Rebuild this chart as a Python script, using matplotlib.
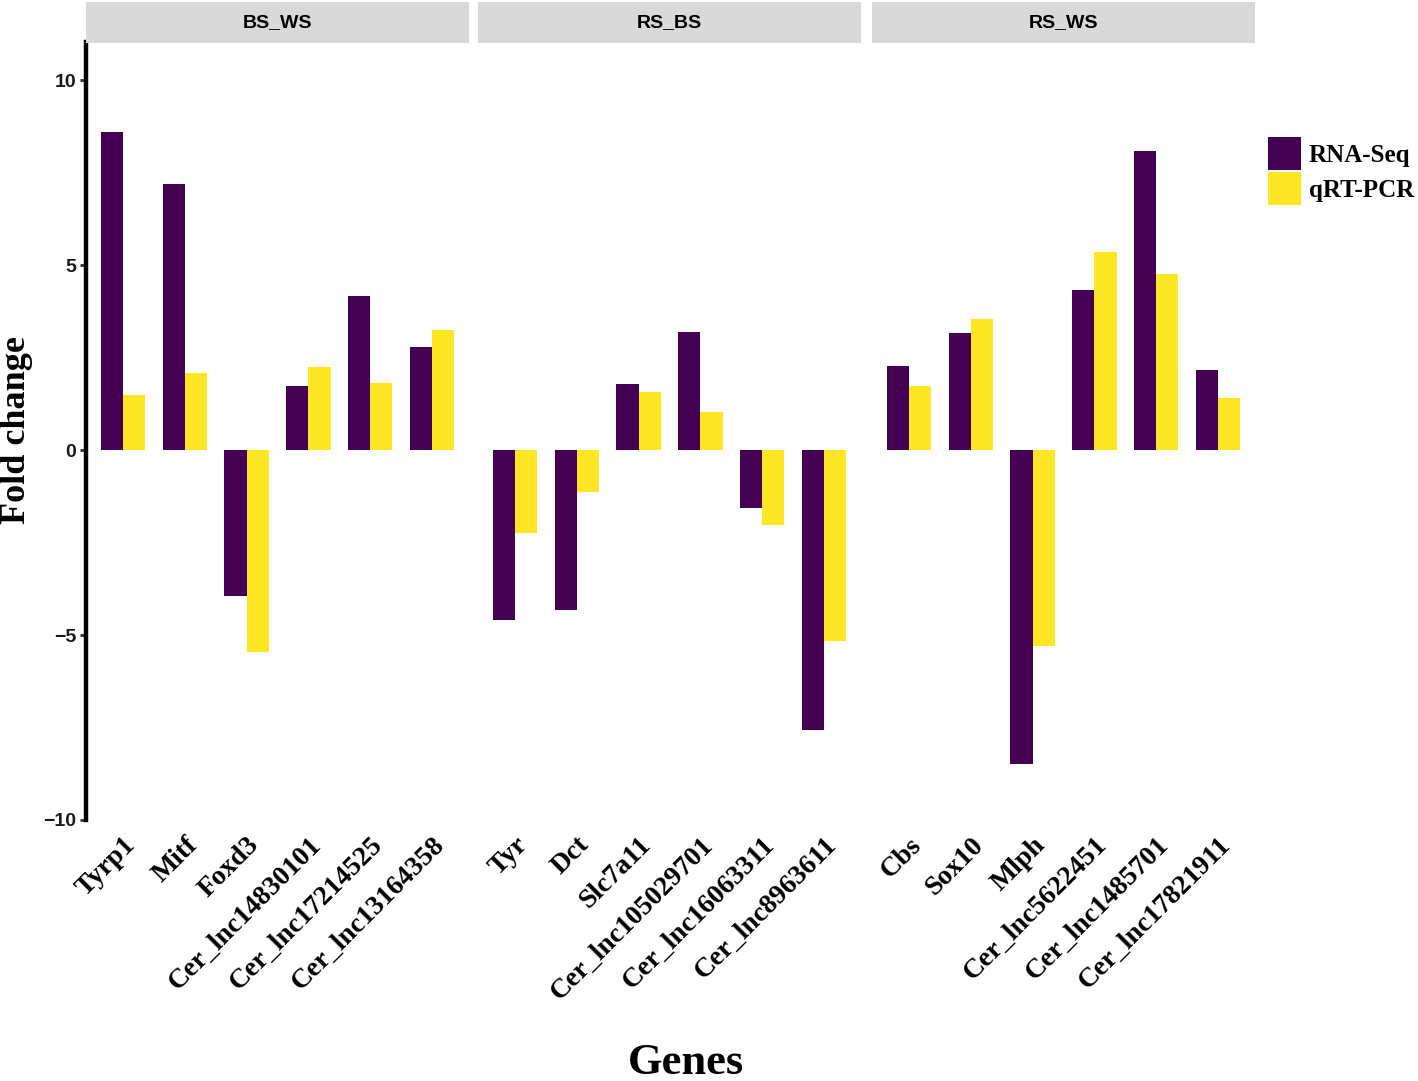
import numpy as np
import matplotlib.pyplot as plt
from matplotlib.patches import Patch

# comparison groups and genes per facet
groups = ["BS_WS", "RS_BS", "RS_WS"]
genes = [
    ["Tyrp1", "Mitf", "Foxd3", "Cer_lnc14830101", "Cer_lnc17214525", "Cer_lnc13164358"],
    ["Tyr", "Dct", "Slc7a11", "Cer_lnc105029701", "Cer_lnc16063311", "Cer_lnc8963611"],
    ["Cbs", "Sox10", "Mlph", "Cer_lnc5622451", "Cer_lnc1485701", "Cer_lnc17821911"],
]
rnaseq = [
    [8.6, 7.2, -3.95, 1.73, 4.16, 2.78],
    [-4.59, -4.32, 1.78, 3.19, -1.57, -7.57],
    [2.27, 3.16, -8.49, 4.32, 8.08, 2.16],
]
qrtpcr = [
    [1.49, 2.08, -5.46, 2.24, 1.81, 3.24],
    [-2.24, -1.14, 1.57, 1.03, -2.03, -5.16],
    [1.73, 3.54, -5.30, 5.35, 4.76, 1.41],
]
yticks = [-10, -5, 0, 5, 10]

purple = "#440154"
yellow = "#FDE725"
serif = "Liberation Serif"
sans = "Liberation Sans"

W, H = 1418, 1081
fig = plt.figure(figsize=(W / 100, H / 100), dpi=100)

panel_x = [86, 478, 872]
panel_w = 383
top, bottom = 42, 820
bw = 0.36

for i, g in enumerate(groups):
    ax = fig.add_axes([panel_x[i] / W, 1 - bottom / H, panel_w / W, (bottom - top) / H])
    x = np.arange(len(genes[i]))
    ax.bar(x - bw / 2, rnaseq[i], width=bw, color=purple)
    ax.bar(x + bw / 2, qrtpcr[i], width=bw, color=yellow)
    ax.set_xlim(-0.6, len(genes[i]) - 0.4)
    ax.set_ylim(-10, 11.03)
    for s in ["top", "right", "bottom", "left"]:
        ax.spines[s].set_visible(False)
    ax.set_xticks(x)
    ax.set_xticklabels(genes[i], rotation=45, ha="right", va="top",
                       rotation_mode="anchor", fontsize=20, fontfamily=serif,
                       fontweight="bold")
    ax.tick_params(axis="x", length=0, pad=9)
    if i == 0:
        ax.spines["left"].set_visible(True)
        ax.spines["left"].set_linewidth(3.2)
        ax.set_yticks(yticks)
        ax.set_yticklabels([str(t).replace("-", "\u2212") for t in yticks],
                           fontsize=14, fontfamily=sans, fontweight="bold",
                           color="#1a1a1a")
        ax.tick_params(axis="y", length=4, width=2, color="#333333", pad=3)
    else:
        ax.set_yticks([])
    # facet strip
    sx = fig.add_axes([panel_x[i] / W, 1 - 43 / H, panel_w / W, 41 / H])
    sx.set_facecolor("#D9D9D9")
    sx.set_xticks([])
    sx.set_yticks([])
    for s in sx.spines.values():
        s.set_visible(False)
    sx.text(0.5, 0.5, g, ha="center", va="center", fontsize=14,
            fontfamily=sans, fontweight="bold", transform=sx.transAxes)

fig.text(17 / W, 1 - 430 / H, "Fold change", rotation=90, ha="center", va="center",
         fontsize=26, fontfamily=serif, fontweight="bold")
fig.text(686 / W, 1 - 1063 / H, "Genes", ha="center", va="center",
         fontsize=32, fontfamily=serif, fontweight="bold")

handles = [Patch(facecolor=purple, edgecolor="none", label="RNA-Seq"),
           Patch(facecolor=yellow, edgecolor="none", label="qRT-PCR")]
fig.legend(handles=handles, loc="upper left", bbox_to_anchor=(1268 / W, 1 - 137 / H),
           frameon=False, borderpad=0, handlelength=1.32, handleheight=1.65,
           labelspacing=0.08, handletextpad=0.3, borderaxespad=0,
           prop={"family": serif, "weight": "bold", "size": 18})

fig.savefig("out.png", dpi=100)
